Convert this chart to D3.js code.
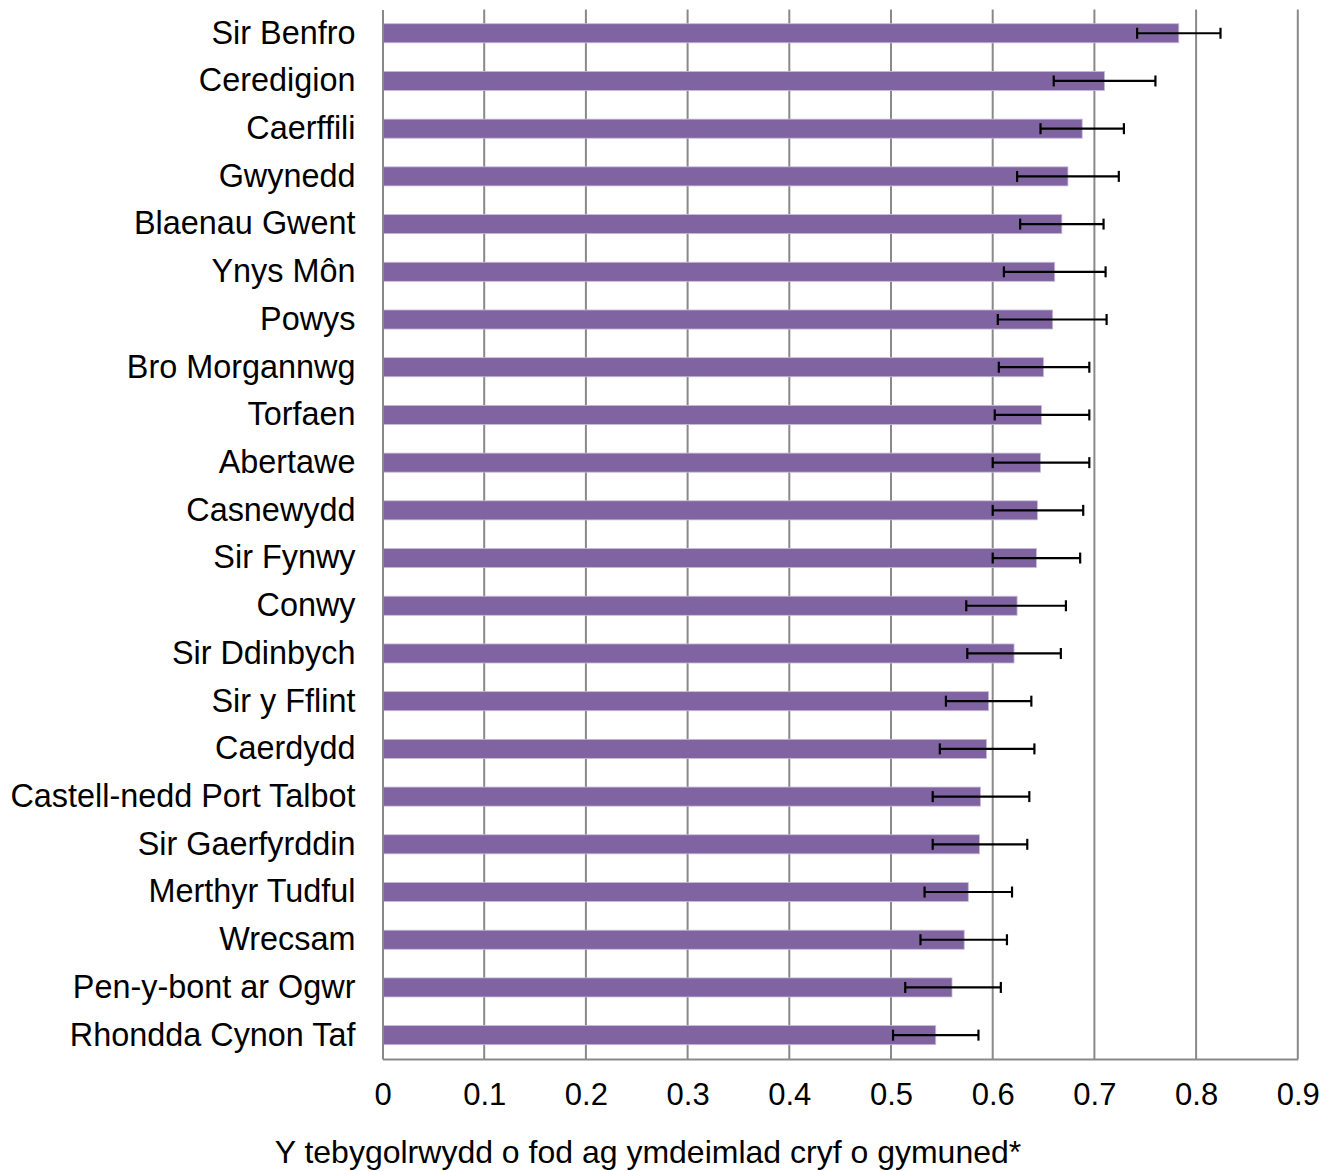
<!DOCTYPE html>
<html>
<head>
<meta charset="utf-8">
<script src="https://cdn.jsdelivr.net/npm/d3@7"></script>
<style>
  body { margin: 0; background: #fff; }
  svg { font-family: "Liberation Sans", Arial, sans-serif; }
</style>
</head>
<body>
<svg id="chart"></svg>
<script>
// categories, top to bottom
const AREAS = [
  "Sir Benfro", "Ceredigion", "Caerffili", "Gwynedd", "Blaenau Gwent",
  "Ynys Môn", "Powys", "Bro Morgannwg", "Torfaen", "Abertawe",
  "Casnewydd", "Sir Fynwy", "Conwy", "Sir Ddinbych", "Sir y Fflint",
  "Caerdydd", "Castell-nedd Port Talbot", "Sir Gaerfyrddin", "Merthyr Tudful",
  "Wrecsam", "Pen-y-bont ar Ogwr", "Rhondda Cynon Taf"
];

// estimated probability for each area
const PROB = [
  0.783, 0.710, 0.688, 0.674, 0.668,
  0.661, 0.659, 0.650, 0.648, 0.647,
  0.644, 0.643, 0.624, 0.621, 0.596,
  0.594, 0.588, 0.587, 0.576, 0.572,
  0.560, 0.544
];

// lower and upper ends of the error bars
const LOW = [
  0.742, 0.660, 0.647, 0.624, 0.627,
  0.611, 0.605, 0.606, 0.602, 0.600,
  0.600, 0.600, 0.574, 0.575, 0.554,
  0.548, 0.541, 0.541, 0.533, 0.529,
  0.514, 0.502
];
const HIGH = [
  0.824, 0.760, 0.729, 0.724, 0.709,
  0.711, 0.712, 0.695, 0.695, 0.695,
  0.689, 0.686, 0.672, 0.667, 0.638,
  0.641, 0.636, 0.634, 0.619, 0.614,
  0.608, 0.586
];

const X_TICKS = [0, 0.1, 0.2, 0.3, 0.4, 0.5, 0.6, 0.7, 0.8, 0.9];
const X_TITLE = "Y tebygolrwydd o fod ag ymdeimlad cryf o gymuned*";

const W = 1338, H = 1171;
const plotLeft = 382.5, plotTop = 9.4, plotRight = 1297.8, plotBottom = 1059;

const svg = d3.select("#chart").attr("width", W).attr("height", H);

const x = d3.scaleLinear().domain([0, 0.9]).range([plotLeft, plotRight]);
const y = d3.scaleBand().domain(AREAS).range([plotTop, plotBottom])
  .paddingInner(0.6).paddingOuter(0.3);

// vertical gridlines
svg.append("g")
  .selectAll("line")
  .data(X_TICKS.slice(1))
  .enter().append("line")
  .attr("x1", d => x(d)).attr("x2", d => x(d))
  .attr("y1", plotTop).attr("y2", plotBottom)
  .attr("stroke", "#898989").attr("stroke-width", 2);

// bars
svg.append("g")
  .selectAll("rect")
  .data(AREAS)
  .enter().append("rect")
  .attr("x", x(0))
  .attr("y", d => y(d))
  .attr("width", (d, i) => x(PROB[i]) - x(0))
  .attr("height", y.bandwidth())
  .attr("fill", "#8064a2")
  .attr("stroke", "#c9bcdb").attr("stroke-width", 0.8);

// error bars
const cap = 5.5;
const err = svg.append("g").attr("stroke", "#000").attr("stroke-width", 2.2);
AREAS.forEach((a, i) => {
  const cy = y(a) + y.bandwidth() / 2;
  err.append("line").attr("x1", x(LOW[i])).attr("x2", x(HIGH[i]))
    .attr("y1", cy).attr("y2", cy);
  err.append("line").attr("x1", x(LOW[i])).attr("x2", x(LOW[i]))
    .attr("y1", cy - cap).attr("y2", cy + cap);
  err.append("line").attr("x1", x(HIGH[i])).attr("x2", x(HIGH[i]))
    .attr("y1", cy - cap).attr("y2", cy + cap);
});

// axes
const xAxis = svg.append("g")
  .attr("transform", `translate(0,${plotBottom})`)
  .call(d3.axisBottom(x).tickValues(X_TICKS).tickSize(0).tickPadding(24)
    .tickFormat(d => d === 0 ? "0" : String(d)));
xAxis.select(".domain").attr("stroke", "#898989").attr("stroke-width", 2);
xAxis.selectAll("text").attr("font-size", 31).attr("fill", "#000")
  .attr("font-family", "Liberation Sans, Arial, sans-serif");

const yAxis = svg.append("g")
  .attr("transform", `translate(${plotLeft},0)`)
  .call(d3.axisLeft(y).tickSize(0).tickPadding(27));
yAxis.select(".domain").attr("stroke", "#898989").attr("stroke-width", 2);
yAxis.selectAll("text").attr("font-size", 32.4).attr("fill", "#000")
  .attr("font-family", "Liberation Sans, Arial, sans-serif");

// x axis title
svg.append("text")
  .attr("x", 648)
  .attr("y", 1163)
  .attr("text-anchor", "middle")
  .attr("font-size", 32)
  .attr("fill", "#000")
  .text(X_TITLE);
</script>
</body>
</html>
